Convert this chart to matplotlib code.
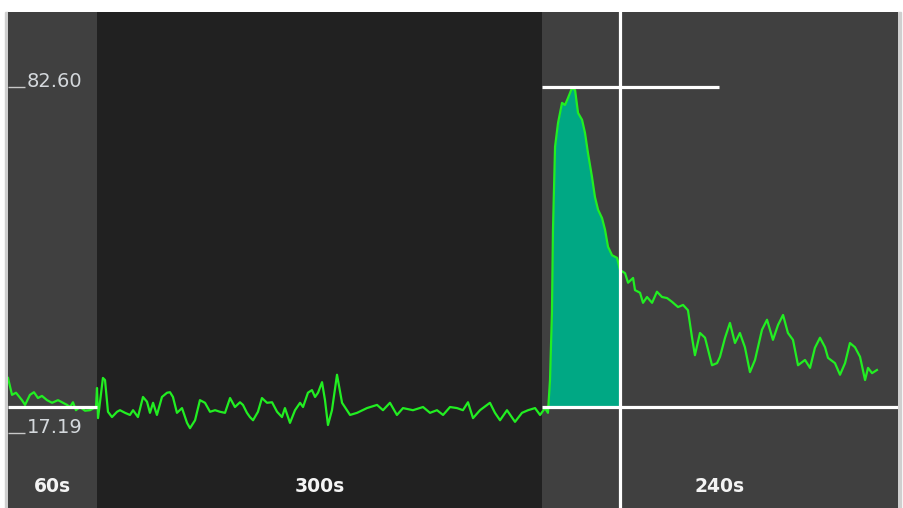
import matplotlib
matplotlib.use("Agg")
import matplotlib.pyplot as plt
import numpy as np

# ---- data ----
region_labels = ["60s", "300s", "240s"]
region_durations = [60, 300, 240]
region_colors = ["#404040", "#212121", "#404040"]

trace_t = [0, 2.7, 5.4, 9.4, 11.5, 14.8, 17.5, 20.2, 22.9, 26.3, 29.7, 33.7, 36.4, 39.8, 41.8,
           43.8, 45.8, 48.5, 51.9, 55.3, 58.0, 59.3, 60.0, 60.7, 64.0, 65.4, 67.4,
           70.1, 73.5, 75.5, 78.9, 82.2, 84.3, 87.6, 91.0, 93.7, 95.7, 97.8, 100.4, 103.8, 107.2,
           109.2, 111.2, 113.9, 117.3, 120.7, 122.7, 126.1, 129.4, 132.8, 136.2, 139.6, 142.9,
           146.3, 149.7, 153.0, 156.4, 158.4, 161.1, 163.1, 165.2, 168.5, 171.2, 174.6, 178.0,
           181.4, 184.7, 186.7, 190.1, 193.5, 196.9, 198.9, 202.2, 204.9, 207.0, 209.0, 211.7,
           213.7, 215.7, 218.4, 221.8, 225.2, 230.6, 235.3, 242.0, 248.8, 252.8, 257.5, 262.2,
           266.3, 273.0, 279.8, 284.5, 289.2, 293.3, 298.0, 302.7, 306.7, 310.1, 313.5, 318.2,
           324.9, 328.3, 331.7, 336.4, 341.8, 346.5, 350.6, 355.3, 358.7, 362.0, 364.0,
           365.4, 366.7, 367.4, 368.8, 370.8, 373.5, 375.5, 377.5, 380.2, 382.3, 384.3, 387.0,
           389.0, 391.0, 393.7, 395.7, 397.8, 400.5, 402.5, 404.5, 407.2, 410.6, 412.6,
           416.0, 418.0, 421.4, 422.7, 426.1, 428.1, 430.8, 434.2, 437.5, 440.9, 444.3, 447.6,
           451.7, 455.1, 458.4, 461.1, 463.1, 466.5, 469.9, 474.6, 478.0, 480.0, 483.4, 486.7,
           490.1, 493.4, 496.8, 500.2, 503.6, 505.6, 508.3, 511.7, 515.7, 519.1, 522.5, 525.8,
           529.2, 532.6, 537.3, 540.7, 544.0, 547.4, 550.8, 552.8, 557.5, 560.9, 564.3, 567.6,
           571.0, 574.4, 577.8, 579.8, 582.5, 585.8]
trace_v = [27.6, 24.4, 24.8, 23.4, 22.5, 24.4, 24.9, 23.8, 24.2, 23.4, 22.9, 23.4, 23.0, 22.5, 22.1,
           23.0, 21.5, 22.1, 21.4, 21.5, 21.9, 21.9, 25.7, 20.0, 27.6, 27.2, 21.2,
           20.2, 21.2, 21.5, 21.0, 20.6, 21.5, 20.2, 24.0, 23.1, 21.0, 22.9, 20.6, 24.0, 24.8,
           24.9, 24.0, 21.0, 21.9, 19.1, 18.1, 19.6, 23.4, 22.9, 21.2, 21.5, 21.2,
           21.0, 23.8, 22.1, 23.0, 22.5, 21.0, 20.2, 19.6, 21.2, 23.8, 22.9, 23.0,
           21.2, 20.2, 21.9, 19.1, 21.5, 22.9, 22.1, 24.8, 25.3, 24.0, 24.8, 26.8,
           23.4, 18.7, 21.5, 28.2, 22.9, 20.6, 21.0, 21.9, 22.5, 21.5, 22.9, 20.6,
           21.9, 21.5, 22.1, 21.0, 21.5, 20.6, 22.1, 21.9, 21.5, 23.0, 20.0, 21.5,
           22.9, 21.0, 19.6, 21.5, 19.3, 21.0, 21.5, 21.9, 20.6, 21.9, 21.0,
           27.2, 39.9, 55.6, 71.3, 75.8, 79.6, 79.2, 80.5, 82.4, 82.0, 77.7, 76.4,
           73.9, 70.1, 65.6, 61.8, 59.4, 57.8, 55.6, 52.4, 50.8, 50.3, 48.0,
           47.4, 45.6, 46.5, 44.2, 43.7, 41.8, 42.9, 41.8, 43.9, 42.9, 42.7, 42.0,
           41.0, 41.4, 40.4, 35.3, 31.9, 36.1, 35.2, 30.0, 30.4, 31.6, 35.2, 38.0,
           34.2, 36.1, 33.4, 28.7, 31.0, 33.4, 36.7, 38.6, 34.8, 37.6, 39.5, 36.1,
           34.8, 30.0, 31.0, 29.5, 33.3, 35.2, 33.4, 31.4, 30.4, 28.2, 30.4, 34.2,
           33.4, 31.6, 27.2, 29.5, 28.5, 29.1]

baseline_value = 22.1
peak_value = 82.60
cursor_t = 412.6
fill_start_t = 364.0
ytick_values = [82.60, 17.19]
ytick_labels = ["82.60", "17.19"]

# ---- figure ----
W, H = 904, 508
fig = plt.figure(figsize=(W / 100, H / 100), dpi=100)
fig.patch.set_facecolor("white")
# light gray side borders
fig.add_artist(plt.Rectangle((5 / W, 0), 3 / W, (H - 12) / H, transform=fig.transFigure,
                             color="#cfcfcf", zorder=0))
fig.add_artist(plt.Rectangle((898 / W, 0), 3 / W, (H - 12) / H, transform=fig.transFigure,
                             color="#cfcfcf", zorder=0))

ax = fig.add_axes([8 / W, 0, 890 / W, (H - 12) / H])
total = sum(region_durations)
ax.set_xlim(0, total)
ax.set_ylim(3.01, 96.78)
ax.axis("off")

starts = np.concatenate([[0], np.cumsum(region_durations)[:-1]])
for s, d, c, lab in zip(starts, region_durations, region_colors, region_labels):
    ax.axvspan(s, s + d, color=c, zorder=0, lw=0)
    ax.text(s + d / 2, 6.0, lab, ha="center", va="baseline", color="#f4f4f4",
            fontsize=13.5, fontweight="bold", family="DejaVu Sans", zorder=5)

t = np.array(trace_t)
v = np.array(trace_v)
mask = (t >= fill_start_t) & (t <= cursor_t)
ax.fill_between(t[mask], v[mask], baseline_value, color="#00a884", lw=0, zorder=2)
ax.plot(t, v, color="#22ee22", lw=1.6, zorder=3, solid_joinstyle="round")

# white reference lines
white_lw = 2.3
ax.plot([0, starts[1]], [baseline_value, baseline_value], color="white", lw=white_lw, zorder=4,
        solid_capstyle="butt")
ax.plot([starts[2], total], [baseline_value, baseline_value], color="white", lw=white_lw, zorder=4,
        solid_capstyle="butt")
ax.plot([starts[2], 479], [peak_value, peak_value], color="white", lw=white_lw, zorder=4,
        solid_capstyle="butt")
ax.axvline(cursor_t, color="white", lw=white_lw, zorder=4)

# y labels with underscore ticks
for val, lab in zip(ytick_values, ytick_labels):
    ax.plot([0, 11.5], [val, val], color="#c8c8c8", lw=1.0, zorder=5, solid_capstyle="butt")
    ax.text(12.5, val, lab, ha="left", va="baseline", color="#d4d8dc", fontsize=14,
            family="DejaVu Sans", zorder=5)

fig.savefig("out.png", dpi=100, facecolor="white")
